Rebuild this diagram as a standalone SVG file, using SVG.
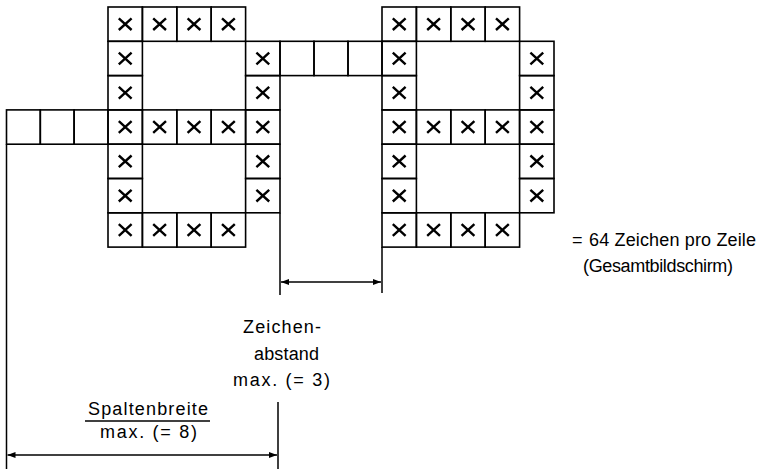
<svg xmlns="http://www.w3.org/2000/svg" xmlns:xlink="http://www.w3.org/1999/xlink" width="759" height="469" viewBox="0 0 759 469">
<style>
.cell{fill:none;stroke:#000;stroke-width:1.6}
.x{fill:none;stroke:#000;stroke-width:2.4}
.ln{fill:none;stroke:#000;stroke-width:1.5}
.dim{fill:none;stroke:#000;stroke-width:1.3}
.t{font-family:"Liberation Sans",Arial,sans-serif;font-size:18px;fill:#000}
</style>
<defs>
<g id="xc"><rect width="34.4" height="34.3" class="cell"/><path class="x" d="M10.8 11.3L23.6 23M23.6 11.3L10.8 23"/></g>
<rect id="ec" width="34" height="34.3" class="cell"/>
<marker id="ar" viewBox="0 0 8 6" refX="8" refY="3" markerWidth="8" markerHeight="6" markerUnits="userSpaceOnUse" orient="auto-start-reverse"><path d="M0 0L8 3L0 6z" fill="#000"/></marker>
</defs>
<rect width="759" height="469" fill="#fff"/>
<g id="char-left">
<use xlink:href="#xc" x="108" y="7"/><use xlink:href="#xc" x="142.4" y="7"/><use xlink:href="#xc" x="176.8" y="7"/><use xlink:href="#xc" x="211.2" y="7"/>
<use xlink:href="#xc" x="108" y="41.3"/><use xlink:href="#xc" x="245.6" y="41.3"/>
<use xlink:href="#xc" x="108" y="75.6"/><use xlink:href="#xc" x="245.6" y="75.6"/>
<use xlink:href="#xc" x="108" y="109.9"/><use xlink:href="#xc" x="142.4" y="109.9"/><use xlink:href="#xc" x="176.8" y="109.9"/><use xlink:href="#xc" x="211.2" y="109.9"/><use xlink:href="#xc" x="245.6" y="109.9"/>
<use xlink:href="#xc" x="108" y="144.2"/><use xlink:href="#xc" x="245.6" y="144.2"/>
<use xlink:href="#xc" x="108" y="178.5"/><use xlink:href="#xc" x="245.6" y="178.5"/>
<use xlink:href="#xc" x="108" y="212.8"/><use xlink:href="#xc" x="142.4" y="212.8"/><use xlink:href="#xc" x="176.8" y="212.8"/><use xlink:href="#xc" x="211.2" y="212.8"/>
</g>
<g id="char-right">
<use xlink:href="#xc" x="382" y="7"/><use xlink:href="#xc" x="416.4" y="7"/><use xlink:href="#xc" x="450.8" y="7"/><use xlink:href="#xc" x="485.2" y="7"/>
<use xlink:href="#xc" x="382" y="41.3"/><use xlink:href="#xc" x="519.6" y="41.3"/>
<use xlink:href="#xc" x="382" y="75.6"/><use xlink:href="#xc" x="519.6" y="75.6"/>
<use xlink:href="#xc" x="382" y="109.9"/><use xlink:href="#xc" x="416.4" y="109.9"/><use xlink:href="#xc" x="450.8" y="109.9"/><use xlink:href="#xc" x="485.2" y="109.9"/><use xlink:href="#xc" x="519.6" y="109.9"/>
<use xlink:href="#xc" x="382" y="144.2"/><use xlink:href="#xc" x="519.6" y="144.2"/>
<use xlink:href="#xc" x="382" y="178.5"/><use xlink:href="#xc" x="519.6" y="178.5"/>
<use xlink:href="#xc" x="382" y="212.8"/><use xlink:href="#xc" x="416.4" y="212.8"/><use xlink:href="#xc" x="450.8" y="212.8"/><use xlink:href="#xc" x="485.2" y="212.8"/>
</g>
<g id="spacing-cells">
<use xlink:href="#ec" x="280" y="41.3"/><use xlink:href="#ec" x="314" y="41.3"/><use xlink:href="#ec" x="348" y="41.3"/>
</g>
<g id="left-cells">
<rect class="cell" x="6.5" y="109.9" width="33.8" height="34.3"/><rect class="cell" x="40.3" y="109.9" width="33.8" height="34.3"/><rect class="cell" x="74.1" y="109.9" width="33.9" height="34.3"/>
</g>
<g id="connectors">
<path class="ln" d="M6.5 144.2V469M280 212.8V295M278 402V469M382 247V293"/>
<path class="dim" d="M281 282H381" marker-start="url(#ar)" marker-end="url(#ar)"/>
<path class="dim" d="M7.5 455H277" marker-start="url(#ar)" marker-end="url(#ar)"/>
<path class="ln" d="M85 421H210"/>
</g>
<g id="labels">
<text class="t" x="572" y="246">=</text>
<text class="t" x="589" y="246" textLength="167" lengthAdjust="spacing">64 Zeichen pro Zeile</text>
<text class="t" x="583" y="272" textLength="150" lengthAdjust="spacing">(Gesamtbildschirm)</text>
<text class="t" x="243" y="333" textLength="78" lengthAdjust="spacing">Zeichen-</text>
<text class="t" x="254" y="360" textLength="65" lengthAdjust="spacing">abstand</text>
<text class="t" x="233" y="386" textLength="97" lengthAdjust="spacing">max. (= 3)</text>
<text class="t" x="88" y="415" textLength="120" lengthAdjust="spacing">Spaltenbreite</text>
<text class="t" x="100" y="438" textLength="97" lengthAdjust="spacing">max. (= 8)</text>
</g>
</svg>
